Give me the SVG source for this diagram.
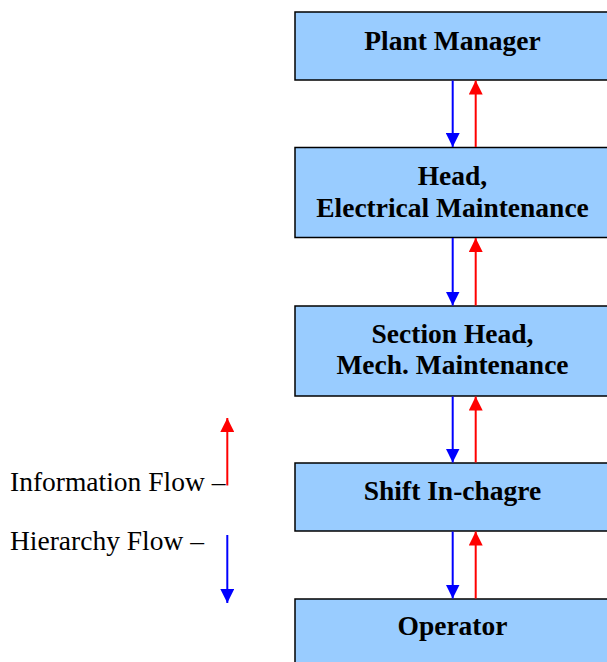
<svg xmlns="http://www.w3.org/2000/svg" width="607" height="662" viewBox="0 0 607 662">
<style>
.box{fill:#99CCFF;stroke:#000;stroke-width:1.5}
.lbl{font-family:"Liberation Serif","Times New Roman",serif;font-weight:bold;font-size:27.5px;text-anchor:middle;fill:#000}
.leg{font-family:"Liberation Serif","Times New Roman",serif;font-size:27.5px;fill:#000}
.down{stroke:#0000FF;stroke-width:2;fill:none;marker-end:url(#hb)}
.up{stroke:#FF0000;stroke-width:2;fill:none;marker-end:url(#hr)}
</style>
<defs>
<marker id="hb" markerUnits="userSpaceOnUse" markerWidth="14" markerHeight="14" refX="14" refY="7" orient="auto"><path d="M0,0 L14,7 L0,14 z" fill="#0000FF"/></marker>
<marker id="hr" markerUnits="userSpaceOnUse" markerWidth="14" markerHeight="14" refX="14" refY="7" orient="auto"><path d="M0,0 L14,7 L0,14 z" fill="#FF0000"/></marker>
</defs>
<rect width="607" height="662" fill="#fff"/>
<g id="plant-manager"><rect class="box" x="295" y="12" width="316" height="68"/><text class="lbl" x="452.5" y="50">Plant Manager</text></g>
<g id="head-electrical"><rect class="box" x="295" y="147.5" width="316" height="90"/><text class="lbl" x="452.5" y="184.5">Head,</text><text class="lbl" x="452.5" y="216.5">Electrical Maintenance</text></g>
<g id="section-head"><rect class="box" x="295" y="306" width="316" height="90"/><text class="lbl" x="452.5" y="342.5">Section Head,</text><text class="lbl" x="452.5" y="374">Mech. Maintenance</text></g>
<g id="shift-incharge"><rect class="box" x="295" y="463" width="316" height="68"/><text class="lbl" x="452.5" y="499.5">Shift In-chagre</text></g>
<g id="operator"><rect class="box" x="295" y="599" width="316" height="70"/><text class="lbl" x="452.5" y="635">Operator</text></g>
<g id="connectors">
<line class="down" x1="452.7" y1="80.5" x2="452.7" y2="147"/>
<line class="up" x1="475.7" y1="147" x2="475.7" y2="80.5"/>
<line class="down" x1="452.7" y1="238" x2="452.7" y2="305.5"/>
<line class="up" x1="475.7" y1="305.5" x2="475.7" y2="238"/>
<line class="down" x1="452.7" y1="396.5" x2="452.7" y2="462.5"/>
<line class="up" x1="475.7" y1="462.5" x2="475.7" y2="396.5"/>
<line class="down" x1="452.7" y1="531.5" x2="452.7" y2="598.5"/>
<line class="up" x1="475.7" y1="598.5" x2="475.7" y2="531.5"/>
</g>
<g id="legend">
<text class="leg" x="10" y="491">Information Flow –</text>
<line class="up" x1="227.3" y1="485.5" x2="227.3" y2="418"/>
<text class="leg" x="10" y="549.5">Hierarchy Flow –</text>
<line class="down" x1="227.3" y1="535" x2="227.3" y2="603"/>
</g>
</svg>
